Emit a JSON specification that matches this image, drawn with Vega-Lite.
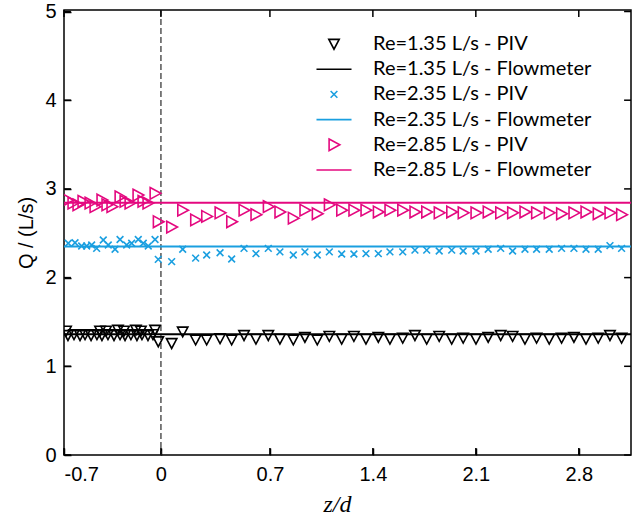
{
  "$schema": "https://vega.github.io/schema/vega-lite/v6.json",
  "autosize": "none",
  "padding": {"left": 64, "top": 10, "right": 5, "bottom": 65},
  "width": 567,
  "height": 445,
  "config": {
    "view": {"stroke": "black", "strokeWidth": 1.5},
    "axis": {
      "grid": false, "domain": false, "zindex": 1,
      "labelFont": "Liberation Sans", "labelFontSize": 20, "labelColor": "black",
      "titleColor": "black"
    }
  },
  "datasets": {
    "piv": [
      {"z": -0.686, "Q": 1.40, "series": "Re=1.35 L/s - PIV"},
      {"z": -0.673, "Q": 1.35, "series": "Re=1.35 L/s - PIV"},
      {"z": -0.632, "Q": 1.36, "series": "Re=1.35 L/s - PIV"},
      {"z": -0.591, "Q": 1.35, "series": "Re=1.35 L/s - PIV"},
      {"z": -0.557, "Q": 1.36, "series": "Re=1.35 L/s - PIV"},
      {"z": -0.516, "Q": 1.35, "series": "Re=1.35 L/s - PIV"},
      {"z": -0.476, "Q": 1.36, "series": "Re=1.35 L/s - PIV"},
      {"z": -0.455, "Q": 1.40, "series": "Re=1.35 L/s - PIV"},
      {"z": -0.442, "Q": 1.35, "series": "Re=1.35 L/s - PIV"},
      {"z": -0.414, "Q": 1.40, "series": "Re=1.35 L/s - PIV"},
      {"z": -0.401, "Q": 1.36, "series": "Re=1.35 L/s - PIV"},
      {"z": -0.360, "Q": 1.35, "series": "Re=1.35 L/s - PIV"},
      {"z": -0.333, "Q": 1.41, "series": "Re=1.35 L/s - PIV"},
      {"z": -0.319, "Q": 1.36, "series": "Re=1.35 L/s - PIV"},
      {"z": -0.292, "Q": 1.40, "series": "Re=1.35 L/s - PIV"},
      {"z": -0.285, "Q": 1.35, "series": "Re=1.35 L/s - PIV"},
      {"z": -0.245, "Q": 1.36, "series": "Re=1.35 L/s - PIV"},
      {"z": -0.211, "Q": 1.41, "series": "Re=1.35 L/s - PIV"},
      {"z": -0.204, "Q": 1.35, "series": "Re=1.35 L/s - PIV"},
      {"z": -0.177, "Q": 1.40, "series": "Re=1.35 L/s - PIV"},
      {"z": -0.170, "Q": 1.36, "series": "Re=1.35 L/s - PIV"},
      {"z": -0.129, "Q": 1.35, "series": "Re=1.35 L/s - PIV"},
      {"z": -0.095, "Q": 1.36, "series": "Re=1.35 L/s - PIV"},
      {"z": -0.081, "Q": 1.41, "series": "Re=1.35 L/s - PIV"},
      {"z": -0.059, "Q": 1.28, "series": "Re=1.35 L/s - PIV"},
      {"z": 0.032, "Q": 1.26, "series": "Re=1.35 L/s - PIV"},
      {"z": 0.107, "Q": 1.39, "series": "Re=1.35 L/s - PIV"},
      {"z": 0.195, "Q": 1.30, "series": "Re=1.35 L/s - PIV"},
      {"z": 0.270, "Q": 1.30, "series": "Re=1.35 L/s - PIV"},
      {"z": 0.361, "Q": 1.315, "series": "Re=1.35 L/s - PIV"},
      {"z": 0.440, "Q": 1.30, "series": "Re=1.35 L/s - PIV"},
      {"z": 0.524, "Q": 1.35, "series": "Re=1.35 L/s - PIV"},
      {"z": 0.605, "Q": 1.31, "series": "Re=1.35 L/s - PIV"},
      {"z": 0.689, "Q": 1.35, "series": "Re=1.35 L/s - PIV"},
      {"z": 0.768, "Q": 1.31, "series": "Re=1.35 L/s - PIV"},
      {"z": 0.859, "Q": 1.30, "series": "Re=1.35 L/s - PIV"},
      {"z": 0.938, "Q": 1.33, "series": "Re=1.35 L/s - PIV"},
      {"z": 1.022, "Q": 1.30, "series": "Re=1.35 L/s - PIV"},
      {"z": 1.104, "Q": 1.34, "series": "Re=1.35 L/s - PIV"},
      {"z": 1.188, "Q": 1.31, "series": "Re=1.35 L/s - PIV"},
      {"z": 1.271, "Q": 1.34, "series": "Re=1.35 L/s - PIV"},
      {"z": 1.353, "Q": 1.31, "series": "Re=1.35 L/s - PIV"},
      {"z": 1.437, "Q": 1.33, "series": "Re=1.35 L/s - PIV"},
      {"z": 1.516, "Q": 1.31, "series": "Re=1.35 L/s - PIV"},
      {"z": 1.603, "Q": 1.32, "series": "Re=1.35 L/s - PIV"},
      {"z": 1.686, "Q": 1.35, "series": "Re=1.35 L/s - PIV"},
      {"z": 1.766, "Q": 1.31, "series": "Re=1.35 L/s - PIV"},
      {"z": 1.851, "Q": 1.34, "series": "Re=1.35 L/s - PIV"},
      {"z": 1.936, "Q": 1.31, "series": "Re=1.35 L/s - PIV"},
      {"z": 2.014, "Q": 1.32, "series": "Re=1.35 L/s - PIV"},
      {"z": 2.101, "Q": 1.31, "series": "Re=1.35 L/s - PIV"},
      {"z": 2.184, "Q": 1.33, "series": "Re=1.35 L/s - PIV"},
      {"z": 2.269, "Q": 1.35, "series": "Re=1.35 L/s - PIV"},
      {"z": 2.350, "Q": 1.34, "series": "Re=1.35 L/s - PIV"},
      {"z": 2.434, "Q": 1.31, "series": "Re=1.35 L/s - PIV"},
      {"z": 2.513, "Q": 1.32, "series": "Re=1.35 L/s - PIV"},
      {"z": 2.599, "Q": 1.31, "series": "Re=1.35 L/s - PIV"},
      {"z": 2.683, "Q": 1.32, "series": "Re=1.35 L/s - PIV"},
      {"z": 2.767, "Q": 1.33, "series": "Re=1.35 L/s - PIV"},
      {"z": 2.849, "Q": 1.31, "series": "Re=1.35 L/s - PIV"},
      {"z": 2.932, "Q": 1.32, "series": "Re=1.35 L/s - PIV"},
      {"z": 3.012, "Q": 1.35, "series": "Re=1.35 L/s - PIV"},
      {"z": 3.091, "Q": 1.32, "series": "Re=1.35 L/s - PIV"},

      {"z": -0.671, "Q": 2.387, "series": "Re=2.35 L/s - PIV"},
      {"z": -0.625, "Q": 2.393, "series": "Re=2.35 L/s - PIV"},
      {"z": -0.580, "Q": 2.356, "series": "Re=2.35 L/s - PIV"},
      {"z": -0.546, "Q": 2.356, "series": "Re=2.35 L/s - PIV"},
      {"z": -0.512, "Q": 2.367, "series": "Re=2.35 L/s - PIV"},
      {"z": -0.478, "Q": 2.33, "series": "Re=2.35 L/s - PIV"},
      {"z": -0.433, "Q": 2.424, "series": "Re=2.35 L/s - PIV"},
      {"z": -0.399, "Q": 2.367, "series": "Re=2.35 L/s - PIV"},
      {"z": -0.353, "Q": 2.319, "series": "Re=2.35 L/s - PIV"},
      {"z": -0.319, "Q": 2.43, "series": "Re=2.35 L/s - PIV"},
      {"z": -0.274, "Q": 2.367, "series": "Re=2.35 L/s - PIV"},
      {"z": -0.240, "Q": 2.387, "series": "Re=2.35 L/s - PIV"},
      {"z": -0.195, "Q": 2.43, "series": "Re=2.35 L/s - PIV"},
      {"z": -0.161, "Q": 2.387, "series": "Re=2.35 L/s - PIV"},
      {"z": -0.127, "Q": 2.356, "series": "Re=2.35 L/s - PIV"},
      {"z": -0.081, "Q": 2.43, "series": "Re=2.35 L/s - PIV"},
      {"z": -0.059, "Q": 2.206, "series": "Re=2.35 L/s - PIV"},
      {"z": 0.032, "Q": 2.18, "series": "Re=2.35 L/s - PIV"},
      {"z": 0.107, "Q": 2.32, "series": "Re=2.35 L/s - PIV"},
      {"z": 0.195, "Q": 2.22, "series": "Re=2.35 L/s - PIV"},
      {"z": 0.270, "Q": 2.255, "series": "Re=2.35 L/s - PIV"},
      {"z": 0.361, "Q": 2.28, "series": "Re=2.35 L/s - PIV"},
      {"z": 0.440, "Q": 2.21, "series": "Re=2.35 L/s - PIV"},
      {"z": 0.524, "Q": 2.33, "series": "Re=2.35 L/s - PIV"},
      {"z": 0.605, "Q": 2.27, "series": "Re=2.35 L/s - PIV"},
      {"z": 0.689, "Q": 2.33, "series": "Re=2.35 L/s - PIV"},
      {"z": 0.768, "Q": 2.29, "series": "Re=2.35 L/s - PIV"},
      {"z": 0.859, "Q": 2.255, "series": "Re=2.35 L/s - PIV"},
      {"z": 0.938, "Q": 2.29, "series": "Re=2.35 L/s - PIV"},
      {"z": 1.022, "Q": 2.255, "series": "Re=2.35 L/s - PIV"},
      {"z": 1.104, "Q": 2.29, "series": "Re=2.35 L/s - PIV"},
      {"z": 1.188, "Q": 2.266, "series": "Re=2.35 L/s - PIV"},
      {"z": 1.271, "Q": 2.266, "series": "Re=2.35 L/s - PIV"},
      {"z": 1.353, "Q": 2.27, "series": "Re=2.35 L/s - PIV"},
      {"z": 1.437, "Q": 2.27, "series": "Re=2.35 L/s - PIV"},
      {"z": 1.516, "Q": 2.29, "series": "Re=2.35 L/s - PIV"},
      {"z": 1.603, "Q": 2.29, "series": "Re=2.35 L/s - PIV"},
      {"z": 1.686, "Q": 2.31, "series": "Re=2.35 L/s - PIV"},
      {"z": 1.766, "Q": 2.31, "series": "Re=2.35 L/s - PIV"},
      {"z": 1.851, "Q": 2.30, "series": "Re=2.35 L/s - PIV"},
      {"z": 1.936, "Q": 2.31, "series": "Re=2.35 L/s - PIV"},
      {"z": 2.014, "Q": 2.30, "series": "Re=2.35 L/s - PIV"},
      {"z": 2.101, "Q": 2.30, "series": "Re=2.35 L/s - PIV"},
      {"z": 2.184, "Q": 2.32, "series": "Re=2.35 L/s - PIV"},
      {"z": 2.269, "Q": 2.33, "series": "Re=2.35 L/s - PIV"},
      {"z": 2.350, "Q": 2.30, "series": "Re=2.35 L/s - PIV"},
      {"z": 2.434, "Q": 2.32, "series": "Re=2.35 L/s - PIV"},
      {"z": 2.513, "Q": 2.32, "series": "Re=2.35 L/s - PIV"},
      {"z": 2.599, "Q": 2.32, "series": "Re=2.35 L/s - PIV"},
      {"z": 2.683, "Q": 2.33, "series": "Re=2.35 L/s - PIV"},
      {"z": 2.767, "Q": 2.33, "series": "Re=2.35 L/s - PIV"},
      {"z": 2.849, "Q": 2.32, "series": "Re=2.35 L/s - PIV"},
      {"z": 2.932, "Q": 2.32, "series": "Re=2.35 L/s - PIV"},
      {"z": 3.012, "Q": 2.36, "series": "Re=2.35 L/s - PIV"},
      {"z": 3.091, "Q": 2.33, "series": "Re=2.35 L/s - PIV"},

      {"z": -0.673, "Q": 2.875, "series": "Re=2.85 L/s - PIV"},
      {"z": -0.639, "Q": 2.84, "series": "Re=2.85 L/s - PIV"},
      {"z": -0.605, "Q": 2.82, "series": "Re=2.85 L/s - PIV"},
      {"z": -0.571, "Q": 2.86, "series": "Re=2.85 L/s - PIV"},
      {"z": -0.523, "Q": 2.84, "series": "Re=2.85 L/s - PIV"},
      {"z": -0.489, "Q": 2.80, "series": "Re=2.85 L/s - PIV"},
      {"z": -0.442, "Q": 2.875, "series": "Re=2.85 L/s - PIV"},
      {"z": -0.408, "Q": 2.82, "series": "Re=2.85 L/s - PIV"},
      {"z": -0.374, "Q": 2.80, "series": "Re=2.85 L/s - PIV"},
      {"z": -0.319, "Q": 2.91, "series": "Re=2.85 L/s - PIV"},
      {"z": -0.285, "Q": 2.86, "series": "Re=2.85 L/s - PIV"},
      {"z": -0.251, "Q": 2.84, "series": "Re=2.85 L/s - PIV"},
      {"z": -0.197, "Q": 2.93, "series": "Re=2.85 L/s - PIV"},
      {"z": -0.163, "Q": 2.86, "series": "Re=2.85 L/s - PIV"},
      {"z": -0.129, "Q": 2.84, "series": "Re=2.85 L/s - PIV"},
      {"z": -0.081, "Q": 2.95, "series": "Re=2.85 L/s - PIV"},
      {"z": -0.059, "Q": 2.63, "series": "Re=2.85 L/s - PIV"},
      {"z": 0.032, "Q": 2.57, "series": "Re=2.85 L/s - PIV"},
      {"z": 0.107, "Q": 2.76, "series": "Re=2.85 L/s - PIV"},
      {"z": 0.195, "Q": 2.65, "series": "Re=2.85 L/s - PIV"},
      {"z": 0.270, "Q": 2.69, "series": "Re=2.85 L/s - PIV"},
      {"z": 0.361, "Q": 2.73, "series": "Re=2.85 L/s - PIV"},
      {"z": 0.440, "Q": 2.63, "series": "Re=2.85 L/s - PIV"},
      {"z": 0.524, "Q": 2.76, "series": "Re=2.85 L/s - PIV"},
      {"z": 0.605, "Q": 2.71, "series": "Re=2.85 L/s - PIV"},
      {"z": 0.689, "Q": 2.80, "series": "Re=2.85 L/s - PIV"},
      {"z": 0.768, "Q": 2.74, "series": "Re=2.85 L/s - PIV"},
      {"z": 0.859, "Q": 2.67, "series": "Re=2.85 L/s - PIV"},
      {"z": 0.938, "Q": 2.76, "series": "Re=2.85 L/s - PIV"},
      {"z": 1.022, "Q": 2.72, "series": "Re=2.85 L/s - PIV"},
      {"z": 1.104, "Q": 2.82, "series": "Re=2.85 L/s - PIV"},
      {"z": 1.188, "Q": 2.76, "series": "Re=2.85 L/s - PIV"},
      {"z": 1.271, "Q": 2.76, "series": "Re=2.85 L/s - PIV"},
      {"z": 1.353, "Q": 2.76, "series": "Re=2.85 L/s - PIV"},
      {"z": 1.437, "Q": 2.74, "series": "Re=2.85 L/s - PIV"},
      {"z": 1.516, "Q": 2.76, "series": "Re=2.85 L/s - PIV"},
      {"z": 1.603, "Q": 2.76, "series": "Re=2.85 L/s - PIV"},
      {"z": 1.686, "Q": 2.74, "series": "Re=2.85 L/s - PIV"},
      {"z": 1.766, "Q": 2.74, "series": "Re=2.85 L/s - PIV"},
      {"z": 1.851, "Q": 2.73, "series": "Re=2.85 L/s - PIV"},
      {"z": 1.936, "Q": 2.74, "series": "Re=2.85 L/s - PIV"},
      {"z": 2.014, "Q": 2.73, "series": "Re=2.85 L/s - PIV"},
      {"z": 2.101, "Q": 2.73, "series": "Re=2.85 L/s - PIV"},
      {"z": 2.184, "Q": 2.74, "series": "Re=2.85 L/s - PIV"},
      {"z": 2.269, "Q": 2.73, "series": "Re=2.85 L/s - PIV"},
      {"z": 2.350, "Q": 2.73, "series": "Re=2.85 L/s - PIV"},
      {"z": 2.434, "Q": 2.74, "series": "Re=2.85 L/s - PIV"},
      {"z": 2.513, "Q": 2.73, "series": "Re=2.85 L/s - PIV"},
      {"z": 2.599, "Q": 2.73, "series": "Re=2.85 L/s - PIV"},
      {"z": 2.683, "Q": 2.72, "series": "Re=2.85 L/s - PIV"},
      {"z": 2.767, "Q": 2.73, "series": "Re=2.85 L/s - PIV"},
      {"z": 2.849, "Q": 2.74, "series": "Re=2.85 L/s - PIV"},
      {"z": 2.932, "Q": 2.72, "series": "Re=2.85 L/s - PIV"},
      {"z": 3.012, "Q": 2.73, "series": "Re=2.85 L/s - PIV"},
      {"z": 3.091, "Q": 2.71, "series": "Re=2.85 L/s - PIV"}
    ],
    "flow": [
      {"z": -0.7, "Q": 1.36, "series": "Re=1.35 L/s - Flowmeter"},
      {"z": 3.155, "Q": 1.36, "series": "Re=1.35 L/s - Flowmeter"},
      {"z": -0.7, "Q": 2.35, "series": "Re=2.35 L/s - Flowmeter"},
      {"z": 3.155, "Q": 2.35, "series": "Re=2.35 L/s - Flowmeter"},
      {"z": -0.7, "Q": 2.845, "series": "Re=2.85 L/s - Flowmeter"},
      {"z": 3.155, "Q": 2.845, "series": "Re=2.85 L/s - Flowmeter"}
    ],
    "zero": [{"z": -0.041}],
    "yt": [{"v": 0}, {"v": 1}, {"v": 2}, {"v": 3}, {"v": 4}, {"v": 5}],
    "xt": [{"v": -0.7}, {"v": -0.041}, {"v": 0.7}, {"v": 1.4}, {"v": 2.1}, {"v": 2.8}]
  },
  "layer": [
    {
      "data": {"name": "zero"},
      "mark": {"type": "rule", "color": "#555555", "strokeWidth": 1.5, "strokeDash": [6, 3]},
      "encoding": {
        "x": {"field": "z", "type": "quantitative", "scale": {"domain": [-0.7, 3.155], "nice": false, "zero": false},
          "axis": null}
      }
    },
    {
      "data": {"name": "flow"},
      "mark": {"type": "line", "strokeWidth": 2, "clip": true},
      "encoding": {
        "x": {"field": "z", "type": "quantitative",
          "axis": {"orient": "bottom", "values": [-0.7, -0.041, 0.7, 1.4, 2.1, 2.8], "labelPadding": 9,
            "ticks": true, "tickSize": 7, "offset": -7, "tickColor": "#000000", "tickWidth": 1.5,
            "labelExpr": "datum.value < -0.5 ? '-0.7' : (datum.value < 0 ? '0' : format(datum.value, '.1f'))",
            "title": "z/d", "titleFont": "Liberation Serif", "titleFontStyle": "italic", "titleFontWeight": "normal", "titleFontSize": 24, "titlePadding": 8, "titleX": 273}},
        "y": {"field": "Q", "type": "quantitative", "scale": {"domain": [0, 5.017], "nice": false},
          "axis": {"orient": "left", "values": [0, 1, 2, 3, 4, 5], "labelPadding": 8,
            "ticks": true, "tickSize": 7, "offset": -7, "tickColor": "#000000", "tickWidth": 1.5,
            "title": "Q / (L/s)", "titleFont": "Liberation Sans", "titleFontWeight": "normal", "titleFontSize": 20, "titlePadding": 8}},
        "color": {"field": "series", "type": "nominal", "legend": null,
          "scale": {
            "domain": ["Re=1.35 L/s - PIV", "Re=1.35 L/s - Flowmeter", "Re=2.35 L/s - PIV", "Re=2.35 L/s - Flowmeter", "Re=2.85 L/s - PIV", "Re=2.85 L/s - Flowmeter"],
            "range": ["black", "black", "#1A9FE0", "#1A9FE0", "#E4087F", "#E4087F"]
          }},
        "detail": {"field": "series"}
      }
    },
    {
      "data": {"name": "yt"},
      "mark": {"type": "rule", "color": "black", "strokeWidth": 1.5},
      "encoding": {
        "x": {"datum": -0.7, "type": "quantitative", "axis": null},
        "x2": {"datum": -0.653},
        "y": {"field": "v", "type": "quantitative", "axis": null}
      }
    },
    {
      "data": {"name": "yt"},
      "mark": {"type": "rule", "color": "black", "strokeWidth": 1.5},
      "encoding": {
        "x": {"datum": 3.108, "type": "quantitative", "axis": null},
        "x2": {"datum": 3.155},
        "y": {"field": "v", "type": "quantitative", "axis": null}
      }
    },
    {
      "data": {"name": "xt"},
      "mark": {"type": "rule", "color": "black", "strokeWidth": 1.5},
      "encoding": {
        "x": {"field": "v", "type": "quantitative", "axis": null},
        "y": {"datum": 0, "type": "quantitative", "axis": null},
        "y2": {"datum": 0.079}
      }
    },
    {
      "data": {"name": "xt"},
      "mark": {"type": "rule", "color": "black", "strokeWidth": 1.5},
      "encoding": {
        "x": {"field": "v", "type": "quantitative", "axis": null},
        "y": {"datum": 4.938, "type": "quantitative", "axis": null},
        "y2": {"datum": 5.017}
      }
    },
    {
      "data": {"name": "piv"},
      "mark": {"type": "point", "filled": false, "size": 150, "strokeWidth": 1.6, "opacity": 1, "clip": true},
      "encoding": {
        "x": {"field": "z", "type": "quantitative", "axis": null},
        "y": {"field": "Q", "type": "quantitative", "axis": null},
        "color": {"field": "series", "type": "nominal",
          "legend": {"orient": "none", "legendX": 260, "legendY": 24, "title": null, "padding": 0,
            "labelFont": "Lato", "labelFontSize": 20, "labelColor": "black", "labelOffset": 29, "labelLimit": 0,
            "rowPadding": 5.2, "symbolSize": 150, "symbolStrokeWidth": 1.6}},
        "shape": {"field": "series", "type": "nominal",
          "scale": {
            "domain": ["Re=1.35 L/s - PIV", "Re=1.35 L/s - Flowmeter", "Re=2.35 L/s - PIV", "Re=2.35 L/s - Flowmeter", "Re=2.85 L/s - PIV", "Re=2.85 L/s - Flowmeter"],
            "range": ["M-0.85,-0.75L0.85,-0.75L0,0.85Z", "M-2.86,0H2.86", "M-0.55,-0.55L0.55,0.55M-0.55,0.55L0.55,-0.55", "M-2.86,0H2.86", "M-0.8,-0.95L0.95,0L-0.8,0.95Z", "M-2.86,0H2.86"]
          },
          "legend": {"orient": "none", "legendX": 260, "legendY": 24, "title": null, "padding": 0,
            "labelFont": "Lato", "labelFontSize": 20, "labelColor": "black", "labelOffset": 29, "labelLimit": 0,
            "rowPadding": 5.2, "symbolSize": 150, "symbolStrokeWidth": 1.6}}
      }
    }
  ],
  "resolve": {"axis": {"x": "independent", "y": "independent"}, "legend": {"color": "independent", "shape": "independent"}}
}
